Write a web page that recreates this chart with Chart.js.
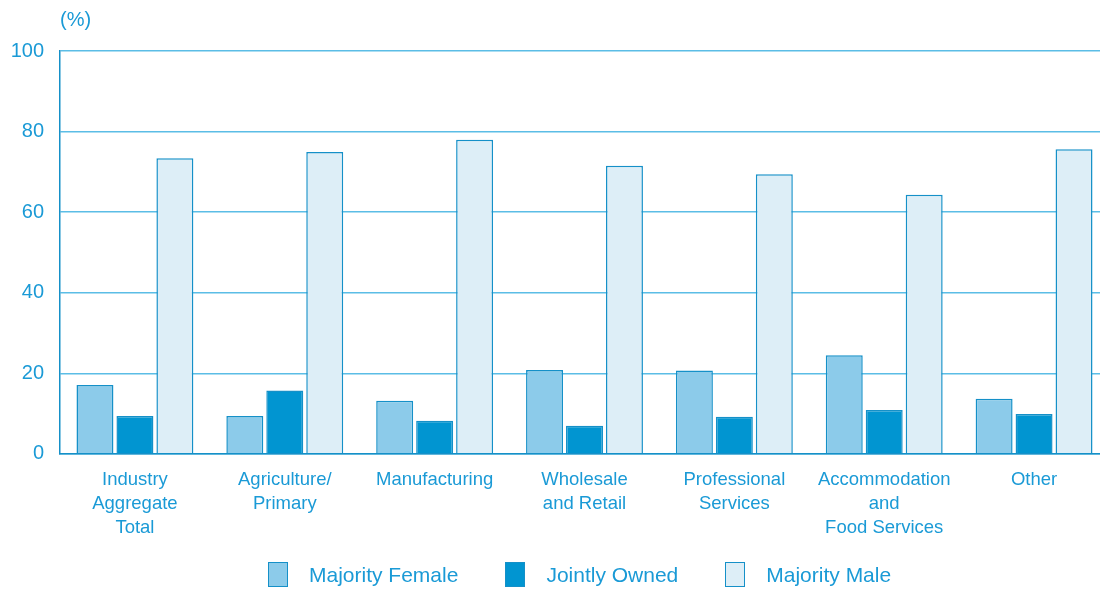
<!DOCTYPE html>
<html lang="en">
<head>
  <meta charset="UTF-8">
  <title>Ownership by industry</title>
  <script src="https://cdn.jsdelivr.net/npm/chart.js"></script>
  <style>
    html, body {
      margin: 0;
      padding: 0;
      background: #ffffff;
      overflow: hidden;
      font-family: 'Liberation Sans', Arial, sans-serif;
    }

    #chart-container {
      position: relative;
      width: 1109px;
      height: 591px;
    }

    #legend {
      position: absolute;
      left: 268px;
      top: 562px;
      display: flex;
      align-items: center;
      color: #1a9ad6;
      font-size: 21px;
      white-space: nowrap;
    }

    .item {
      display: flex;
      align-items: center;
      margin-right: 47px;
    }

    .box {
      width: 18px;
      height: 23px;
      border: 1.5px solid #1590c8;
      margin-right: 21px;
    }
  </style>
</head>
<body>
  <div id="chart-container">
    <canvas id="myChart"></canvas>
    <div id="legend"></div>
  </div>

  <script>
    const categories = [
      ['Industry', 'Aggregate', 'Total'],
      ['Agriculture/', 'Primary'],
      'Manufacturing',
      ['Wholesale', 'and Retail'],
      ['Professional', 'Services'],
      ['Accommodation', 'and', 'Food Services'],
      'Other'
    ];
    const majorityFemale = [17.1, 9.4, 13.2, 20.8, 20.7, 24.5, 13.7];
    const jointlyOwned = [9.4, 15.7, 8.2, 7.0, 9.2, 10.9, 9.9];
    const majorityMale = [73.4, 74.9, 78.0, 71.5, 69.4, 64.3, 75.6];
    const yTicks = [0, 20, 40, 60, 80, 100];

    const textBlue = '#1a9ad6';
    const lineBlue = '#5bbde6';
    const edgeBlue = '#1590c8';

    Chart.defaults.font.family = "'Liberation Sans', Arial, sans-serif";
    Chart.defaults.color = textBlue;

    // "(%)" unit label above the y axis
    const unitLabel = {
      id: 'unitLabel',
      afterDraw(chart) {
        const c = chart.ctx;
        c.save();
        c.font = "20px 'Liberation Sans', Arial, sans-serif";
        c.fillStyle = textBlue;
        c.textAlign = 'left';
        c.textBaseline = 'middle';
        c.fillText('(%)', chart.chartArea.left, 20);
        c.restore();
      }
    };

    const ctx = document.getElementById('myChart').getContext('2d');
    const myChart = new Chart(ctx, {
      type: 'bar',
      data: {
        labels: categories,
        datasets: [
          {
            label: 'Majority Female',
            data: majorityFemale,
            backgroundColor: '#8ccbea',
            borderColor: edgeBlue,
            borderWidth: 1.5
          },
          {
            label: 'Jointly Owned',
            data: jointlyOwned,
            backgroundColor: '#0195d1',
            borderColor: edgeBlue,
            borderWidth: 1.5
          },
          {
            label: 'Majority Male',
            data: majorityMale,
            backgroundColor: '#ddeef7',
            borderColor: edgeBlue,
            borderWidth: 1.5
          }
        ]
      },
      options: {
        responsive: true,
        maintainAspectRatio: false,
        animation: false,
        datasets: {
          bar: {
            categoryPercentage: 0.8,
            barPercentage: 0.925
          }
        },
        layout: {
          padding: { top: 51, left: 0, right: 0, bottom: 45 }
        },
        plugins: {
          legend: { display: false },
          tooltip: { enabled: false }
        },
        scales: {
          x: {
            grid: { display: false },
            border: { color: edgeBlue, width: 1.5 },
            ticks: {
              font: { size: 18.5, lineHeight: 1.3 },
              color: textBlue,
              padding: 6,
              maxRotation: 0,
              autoSkip: false
            }
          },
          y: {
            min: 0,
            max: 100,
            afterFit(scale) { scale.width = 60; },
            afterBuildTicks(scale) { scale.ticks = yTicks.map(v => ({ value: v })); },
            grid: { color: lineBlue, lineWidth: 1.5, drawTicks: false },
            border: { color: edgeBlue, width: 1.5 },
            ticks: {
              font: { size: 20 },
              color: textBlue,
              padding: 16
            }
          }
        }
      },
      plugins: [unitLabel]
    });

    // legend built from the chart's datasets
    const legendDiv = document.getElementById('legend');
    myChart.data.datasets.forEach(ds => {
      const item = document.createElement('div');
      item.className = 'item';
      const box = document.createElement('span');
      box.className = 'box';
      box.style.background = ds.backgroundColor;
      const text = document.createElement('span');
      text.textContent = ds.label;
      item.appendChild(box);
      item.appendChild(text);
      legendDiv.appendChild(item);
    });
  </script>
</body>
</html>
